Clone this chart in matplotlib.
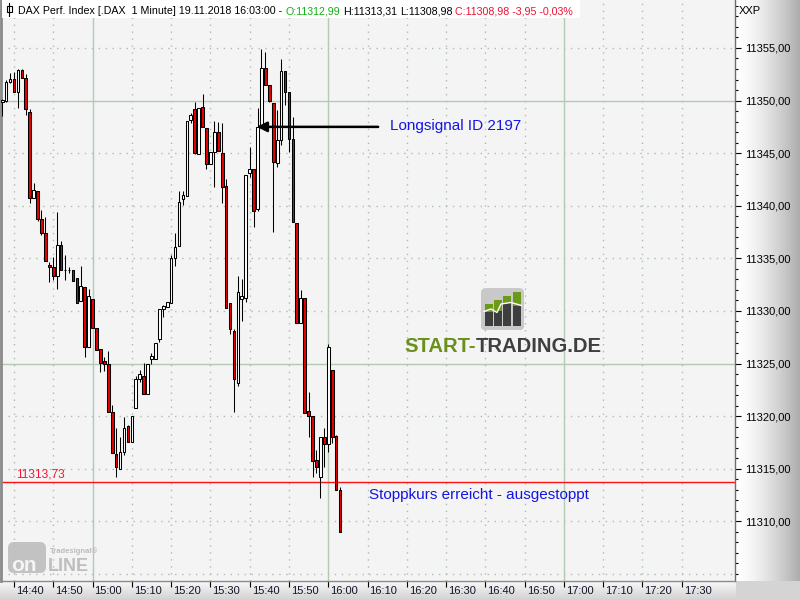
import matplotlib
matplotlib.use("Agg")
import matplotlib.pyplot as plt
import numpy as np
from matplotlib.patches import Rectangle, FancyBboxPatch
from matplotlib.colors import to_rgb
from matplotlib.ticker import FixedLocator, MultipleLocator, FuncFormatter

FONT = ["Liberation Sans", "DejaVu Sans"]

# ---- 1-minute bars, DAX Perf. Index, 19.11.2018 ----
bar_times = [
    "14:37", "14:38", "14:39", "14:40", "14:41", "14:42", "14:43", "14:44", "14:45", "14:46",
    "14:47", "14:48", "14:49", "14:50", "14:51", "14:52", "14:53", "14:54", "14:55", "14:56",
    "14:57", "14:58", "14:59", "15:00", "15:01", "15:02", "15:03", "15:04", "15:05", "15:06",
    "15:07", "15:08", "15:09", "15:10", "15:11", "15:12", "15:13", "15:14", "15:15", "15:16",
    "15:17", "15:18", "15:19", "15:20", "15:21", "15:22", "15:23", "15:24", "15:25", "15:26",
    "15:27", "15:28", "15:29", "15:30", "15:31", "15:32", "15:33", "15:34", "15:35", "15:36",
    "15:37", "15:38", "15:39", "15:40", "15:41", "15:42", "15:43", "15:44", "15:45", "15:46",
    "15:47", "15:48", "15:49", "15:50", "15:51", "15:52", "15:53", "15:54", "15:55", "15:56",
    "15:57", "15:58", "15:59", "16:00", "16:01", "16:02", "16:03",
]
opens = [
    11349.84, 11349.96, 11351.74, 11352.02, 11350.79, 11352.91, 11352.12, 11348.89, 11340.71, 11341.38,
    11338.77, 11337.39, 11334.34, 11334.15, 11333.30, 11336.25, 11333.87, 11333.87, 11333.87, 11333.11,
    11330.92, 11332.28, 11326.55, 11331.14, 11328.36, 11326.36, 11325.22, 11324.96, 11320.43, 11316.38,
    11314.95, 11316.57, 11319.07, 11317.52, 11320.78, 11323.51, 11323.82, 11322.14, 11325.47, 11325.47,
    11327.31, 11330.22, 11330.41, 11330.79, 11335.01, 11336.21, 11340.67, 11340.96, 11348.13, 11349.20,
    11344.90, 11349.36, 11347.37, 11343.97, 11345.09, 11347.02, 11344.99, 11341.91, 11330.73, 11328.05,
    11323.18, 11331.17, 11331.21, 11343.09, 11343.47, 11339.72, 11347.46, 11353.07, 11351.45, 11349.74,
    11344.10, 11346.25, 11352.79, 11350.79, 11346.32, 11338.34, 11328.83, 11331.21, 11320.52, 11320.05,
    11315.84, 11314.25, 11318.05, 11317.36, 11324.39, 11318.12, 11312.99,
]
highs = [
    11350.15, 11351.96, 11352.59, 11352.69, 11352.98, 11353.00, 11352.53, 11349.17, 11342.14, 11341.38,
    11339.63, 11338.91, 11334.63, 11335.10, 11339.38, 11336.63, 11335.29, 11334.18, 11333.90, 11333.14,
    11334.25, 11332.28, 11332.06, 11331.14, 11328.36, 11326.36, 11325.60, 11326.23, 11321.06, 11318.85,
    11318.05, 11319.90, 11319.16, 11320.05, 11323.82, 11324.39, 11325.09, 11324.93, 11325.98, 11326.93,
    11330.16, 11330.57, 11330.86, 11335.32, 11337.39, 11341.41, 11341.41, 11348.09, 11348.79, 11349.84,
    11349.27, 11350.63, 11347.37, 11345.09, 11348.09, 11347.94, 11347.84, 11342.55, 11330.73, 11328.26,
    11333.30, 11333.01, 11342.93, 11345.62, 11343.47, 11349.27, 11354.88, 11354.59, 11351.45, 11349.74,
    11349.11, 11353.95, 11352.79, 11350.79, 11348.41, 11338.34, 11331.99, 11331.21, 11322.27, 11320.05,
    11316.79, 11318.05, 11318.85, 11326.86, 11324.39, 11318.21, 11313.31,
]
lows = [
    11348.56, 11349.87, 11351.67, 11350.79, 11349.32, 11352.12, 11348.66, 11340.29, 11340.71, 11338.58,
    11337.25, 11334.72, 11332.73, 11332.95, 11332.06, 11333.87, 11332.95, 11333.61, 11332.82, 11330.73,
    11330.92, 11325.66, 11326.55, 11328.36, 11326.29, 11324.23, 11324.30, 11320.43, 11316.47, 11314.25,
    11314.95, 11316.31, 11317.58, 11317.52, 11320.78, 11323.28, 11322.14, 11322.14, 11324.93, 11325.47,
    11327.08, 11329.46, 11330.41, 11330.79, 11334.28, 11336.21, 11340.08, 11340.96, 11347.84, 11344.92,
    11344.90, 11347.46, 11343.50, 11343.97, 11341.76, 11345.18, 11340.29, 11330.26, 11327.77, 11320.43,
    11322.87, 11329.08, 11330.88, 11342.77, 11338.01, 11339.51, 11347.46, 11351.45, 11349.84, 11337.54,
    11343.66, 11345.75, 11349.58, 11345.14, 11338.49, 11328.89, 11328.83, 11320.33, 11317.99, 11314.25,
    11314.57, 11312.20, 11315.14, 11316.63, 11317.42, 11312.99, 11308.98,
]
closes = [
    11350.03, 11351.74, 11352.02, 11350.79, 11352.91, 11352.12, 11349.17, 11340.71, 11341.47, 11338.77,
    11337.44, 11334.72, 11334.15, 11333.30, 11336.25, 11333.87, 11333.87, 11333.87, 11332.82, 11330.73,
    11332.40, 11326.61, 11331.45, 11328.36, 11326.29, 11325.03, 11324.96, 11320.43, 11316.47, 11315.20,
    11316.63, 11318.85, 11317.58, 11320.05, 11323.51, 11323.98, 11322.14, 11324.93, 11325.72, 11326.93,
    11330.16, 11330.48, 11330.86, 11335.01, 11336.11, 11340.39, 11341.00, 11348.09, 11348.63, 11345.05,
    11349.27, 11347.46, 11343.97, 11345.09, 11347.02, 11345.18, 11341.82, 11330.26, 11328.26, 11323.51,
    11331.78, 11331.40, 11342.93, 11343.47, 11339.53, 11347.46, 11353.07, 11351.45, 11349.99, 11344.19,
    11346.25, 11352.79, 11350.85, 11346.32, 11338.49, 11328.89, 11331.21, 11320.33, 11320.05, 11315.77,
    11315.20, 11318.05, 11317.36, 11326.55, 11318.05, 11312.99, 11308.98,
]

price_ticks = [11310, 11315, 11320, 11325, 11330, 11335, 11340, 11345, 11350, 11355]
solid_price_lines = [11325, 11350]
time_labels = ["14:40", "14:50", "15:00", "15:10", "15:20", "15:30", "15:40", "15:50", "16:00",
               "16:10", "16:20", "16:30", "16:40", "16:50", "17:00", "17:10", "17:20", "17:30"]
solid_time_lines = ["15:00", "16:00", "17:00"]
stop_price = 11313.73
signal_price = 11347.5
signal_time = "15:42"
signal_text = "Longsignal ID 2197"
stop_text = "Stoppkurs erreicht - ausgestoppt"

T0 = 14 * 60 + 40


def minute(s):
    h, m = s.split(":")
    return int(h) * 60 + int(m) - T0


def fmt_price(v):
    return f"{v:.2f}".replace(".", ",")


W, H = 800, 600
fig = plt.figure(figsize=(W / 100, H / 100), dpi=100)

# ---- frame background (pixel coordinates) ----
bg = fig.add_axes([0, 0, 1, 1], zorder=-1)
bg.add_patch(Rectangle((0, 0), W, H, color="#d4d4d4", zorder=0))
# price-axis panel: white to grey
g = np.linspace(0, 1, 200) ** 1.5
c0, c1 = np.array(to_rgb("#ffffff")), np.array(to_rgb("#acacac"))
grad = c0[None, :] * (1 - g[:, None]) + c1[None, :] * g[:, None]
bg.imshow(grad[None, :, :], extent=(736, W, 581, 0), aspect="auto", zorder=1)
# time-axis strip: light to darker grey
g2 = np.linspace(0, 1, 50)
c2, c3 = np.array(to_rgb("#f8f8f8")), np.array(to_rgb("#d2d2d2"))
grad2 = c2[None, :] * (1 - g2[:, None]) + c3[None, :] * g2[:, None]
bg.imshow(grad2[:, None, :], extent=(0, 736, H, 581), aspect="auto", zorder=1)
bg.set_xlim(0, W)
bg.set_ylim(H, 0)
bg.axis("off")

# ---- main price chart ----
x_left, x_right = -3.31, 183.55
y_bottom, y_top = 11304.33, 11359.56
ax = fig.add_axes([1 / W, 19 / H, 734 / W, 581 / H], zorder=1)
ax.set_facecolor("#f4f4f4")
ax.set_xlim(x_left, x_right)
ax.set_ylim(y_bottom, y_top)

ax.spines["top"].set_visible(False)
ax.spines["left"].set_color("#8a8a8a")
ax.spines["left"].set_linewidth(2.0)
ax.spines["right"].set_color("#6e6e6e")
ax.spines["right"].set_linewidth(1.0)
ax.spines["bottom"].set_color("#8a8a8a")
ax.spines["bottom"].set_linewidth(1.0)

# grid
grid_solid = "#b3cab3"
grid_dot = "#a9bfa9"
for p in price_ticks + [11305]:
    if p in solid_price_lines:
        ax.axhline(p, color=grid_solid, lw=1.0, zorder=0.5)
    else:
        ax.axhline(p, color=grid_dot, lw=1.0, ls=(0, (1, 4)), zorder=0.5)
for lab in time_labels:
    if lab in solid_time_lines:
        ax.axvline(minute(lab), color=grid_solid, lw=1.0, zorder=0.5)
    else:
        ax.axvline(minute(lab), color=grid_dot, lw=1.0, ls=(0, (1, 4)), zorder=0.5)

# stop level
ax.axhline(stop_price, color="#ff1010", lw=1.0, zorder=2)
ax.annotate(fmt_price(stop_price), xy=(0, stop_price), xycoords=("axes fraction", "data"),
            xytext=(15, 2), textcoords="offset pixels", ha="left", va="bottom",
            color="#f01838", fontsize=8.6, family=FONT, zorder=4)

# candles
body_w = 0.68
for t, o, hi, lo, c in zip(bar_times, opens, highs, lows, closes):
    x = minute(t)
    ax.plot([x, x], [lo, hi], color="black", lw=0.75, solid_capstyle="butt", zorder=3)
    bottom = min(o, c)
    height = max(abs(c - o), 0.02)
    face = "white" if c >= o else "#e80000"
    ax.add_patch(Rectangle((x - body_w / 2, bottom), body_w, height, facecolor=face,
                           edgecolor="black", lw=0.75, zorder=3.5))

# signal arrow and annotations
sx = minute(signal_time)
ax.annotate("", xy=(sx - 0.2, signal_price), xytext=(92.7, signal_price),
            arrowprops=dict(arrowstyle="-|>", color="black", lw=1.8, mutation_scale=15,
                            shrinkA=0, shrinkB=0), zorder=5)
ax.text(95.7, signal_price + 0.05, signal_text, color="#1414e6", fontsize=11, family=FONT,
        ha="left", va="center", zorder=5)
ax.text(90.4, 11312.55, stop_text, color="#1414e6", fontsize=11, family=FONT,
        ha="left", va="center", zorder=5)

# price axis
ax.yaxis.tick_right()
ax.yaxis.set_major_locator(FixedLocator(price_ticks))
ax.yaxis.set_minor_locator(MultipleLocator(1))
ax.yaxis.set_major_formatter(FuncFormatter(lambda v, p: fmt_price(v)))
ax.tick_params(axis="y", which="major", length=4, width=0.8, pad=3, labelsize=8,
               colors="black", direction="out")
ax.tick_params(axis="y", which="minor", length=2.5, width=0.8, direction="out", colors="black")
for lab in ax.get_yticklabels():
    lab.set_family(FONT)

# time axis
ax.set_xticks([minute(s) for s in time_labels])
ax.tick_params(axis="x", which="major", length=4, width=0.8, direction="out",
               labelbottom=False, colors="black")
for s in time_labels:
    ax.annotate(s, xy=(minute(s), 0), xycoords=("data", "axes fraction"),
                xytext=(2, -5), textcoords="offset pixels", ha="left", va="top",
                fontsize=8, color="#14142a", family=FONT, annotation_clip=False)

# ---- overlay: header, logos (pixel coordinates) ----
ov = fig.add_axes([0, 0, 1, 1], zorder=5)
ov.patch.set_alpha(0)

ov.add_patch(Rectangle((2, 0), 578, 18, facecolor="white", edgecolor="none"))
# small candle glyph
ov.plot([9, 9], [3, 16], color="black", lw=0.8)
ov.add_patch(Rectangle((6.5, 6), 5, 6, facecolor="white", edgecolor="black", lw=0.8))

header = [
    ("DAX Perf. Index [.DAX  1 Minute] 19.11.2018 16:03:00 -", "black"),
    ("O:11312,99", "#10b010"),
    ("H:11313,31", "black"),
    ("L:11308,98", "black"),
    ("C:11308,98 -3,95 -0,03%", "#f01030"),
]
hsize = 7.7
prev = ov.text(18, 14, header[0][0], color=header[0][1], fontsize=hsize, family=FONT,
               ha="left", va="baseline")
for s, col in header[1:]:
    prev = ov.annotate(s, xy=(1, 0), xycoords=prev, xytext=(3, 0), textcoords="offset pixels",
                       color=col, fontsize=hsize, family=FONT, ha="left", va="bottom")

ov.text(739, 14, "XXP", fontsize=8, family=FONT, color="black", ha="left", va="baseline")

# START-TRADING.DE emblem
icon = FancyBboxPatch((481, 288), 43, 42, boxstyle="round,pad=0,rounding_size=5",
                      facecolor="#c9c9c9", edgecolor="none")
ov.add_patch(icon)
gi = np.linspace(0, 1, 60)
ci0, ci1 = np.array(to_rgb("#ededed")), np.array(to_rgb("#9c9c9c"))
gimg = ci0[None, :] * (1 - gi[:, None]) + ci1[None, :] * gi[:, None]
im = ov.imshow(gimg[:, None, :], extent=(481, 524, 330, 288), aspect="auto")
im.set_clip_path(icon)
bar_x = [485, 494, 503, 512.5]
bar_top = [303.5, 300, 296, 292]
split = [311.5, 310.5, 303, 305.5]
for bx, bt, sp in zip(bar_x, bar_top, split):
    ov.add_patch(Rectangle((bx, bt), 8, sp - bt, facecolor="#6c9a18", edgecolor="none"))
    ov.add_patch(Rectangle((bx, sp), 8, 326 - sp, facecolor="#3e3e3e", edgecolor="none"))
ov.plot([484, 491, 497, 501, 511, 521.5], [311.5, 309, 312.5, 304, 302.5, 305.5],
        color="white", lw=1.0)
t1 = ov.text(404, 352, "START-", fontsize=14.6, fontweight="bold", family=FONT,
             color="#6a8f1c", ha="left", va="baseline")
ov.annotate("TRADING.DE", xy=(1, 0), xycoords=t1, xytext=(0, 0), textcoords="offset pixels",
            fontsize=14.6, fontweight="bold", family=FONT, color="#3f3f3f", ha="left", va="bottom")

# Tradesignal online badge
badge = FancyBboxPatch((8, 542), 38, 31, boxstyle="round,pad=0,rounding_size=6",
                       facecolor="#bdbdbd", edgecolor="none", alpha=0.9)
ov.add_patch(badge)
ov.text(11, 571, "on", fontsize=15, fontweight="bold", family=FONT, color="#f4f4f4",
        ha="left", va="baseline")
ov.text(48, 571, "LINE", fontsize=13, fontweight="bold", family=FONT, color="#bdbdbd",
        ha="left", va="baseline")
ov.text(50, 553, "Tradesignal\u00ae", fontsize=5.5, fontweight="bold", family=FONT,
        color="#bdbdbd", ha="left", va="baseline")
ov.set_xlim(0, W)
ov.set_ylim(H, 0)
ov.axis("off")

fig.savefig("out.png", dpi=100)
